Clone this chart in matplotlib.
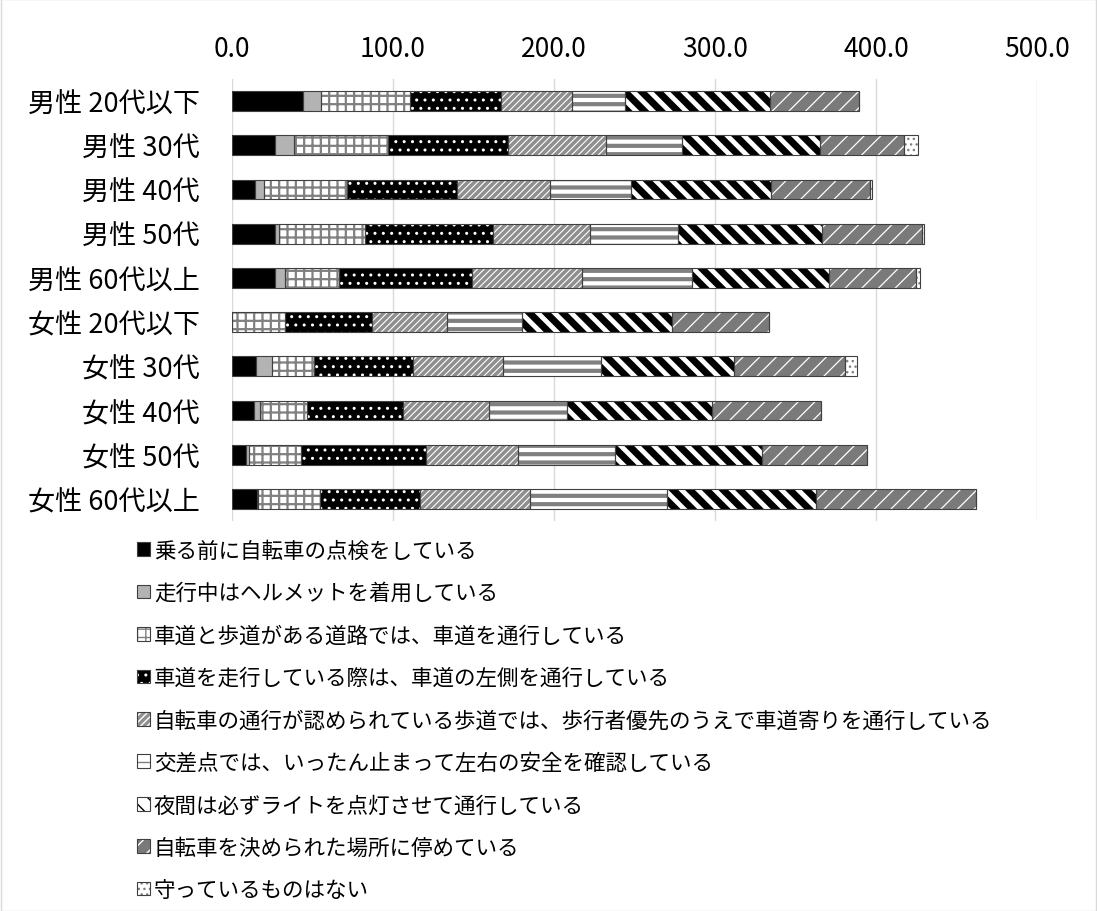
import matplotlib
matplotlib.use("Agg")
import matplotlib.pyplot as plt
from matplotlib.legend_handler import HandlerTuple
from matplotlib.patches import Rectangle
import numpy as np

plt.rcParams['font.family'] = ['Noto Sans CJK JP', 'DejaVu Sans']

categories = ["男性 20代以下", "男性 30代", "男性 40代", "男性 50代", "男性 60代以上",
              "女性 20代以下", "女性 30代", "女性 40代", "女性 50代", "女性 60代以上"]

series_names = [
    "乗る前に自転車の点検をしている",
    "走行中はヘルメットを着用している",
    "車道と歩道がある道路では、車道を通行している",
    "車道を走行している際は、車道の左側を通行している",
    "自転車の通行が認められている歩道では、歩行者優先のうえで車道寄りを通行している",
    "交差点では、いったん止まって左右の安全を確認している",
    "夜間は必ずライトを点灯させて通行している",
    "自転車を決められた場所に停めている",
    "守っているものはない",
]

s_inspect  = [44.4, 26.8, 14.5, 26.8, 26.8, 0.0, 14.8, 13.9, 8.6, 15.4]
s_helmet   = [10.9, 11.4, 5.2, 2.5, 6.2, 0.0, 9.9, 3.4, 2.2, 0.5]
s_roadway  = [55.5, 59.0, 51.8, 53.6, 33.4, 33.0, 26.5, 29.0, 31.8, 38.6]
s_left     = [56.2, 74.0, 68.4, 79.2, 82.9, 54.2, 61.5, 60.2, 78.1, 62.0]
s_sidewalk = [44.4, 61.3, 57.5, 60.4, 68.4, 46.4, 55.8, 53.4, 56.8, 68.6]
s_cross    = [33.0, 47.0, 50.2, 54.7, 68.3, 46.7, 60.8, 48.4, 60.2, 84.8]
s_light    = [89.5, 85.5, 86.9, 89.2, 84.7, 92.9, 82.7, 89.8, 91.3, 92.6]
s_parking  = [55.3, 52.7, 61.8, 62.1, 54.1, 60.4, 68.6, 67.9, 65.4, 99.7]
s_none     = [0.0, 8.5, 1.4, 1.1, 2.8, 0.0, 7.7, 0.0, 0.0, 0.0]

all_series = [s_inspect, s_helmet, s_roadway, s_left, s_sidewalk,
              s_cross, s_light, s_parking, s_none]

x_ticks = [0, 100, 200, 300, 400, 500]
x_tick_labels = ["0.0", "100.0", "200.0", "300.0", "400.0", "500.0"]

# (facecolor, hatch, hatchcolor, hatch linewidth)
styles = [
    ("#000000", None, "#000000", 1.0),
    ("#b3b3b3", None, "#b3b3b3", 1.0),
    ("#ffffff", "++", "#808080", 1.6),
    ("#000000", "..", "#ffffff", 1.0),
    ("#8f8f8f", "/////", "#ffffff", 0.8),
    ("#ffffff", "--", "#808080", 3.0),
    ("#ffffff", "\\\\", "#000000", 5.0),
    ("#7a7a7a", "//", "#ffffff", 0.9),
    ("#ffffff", "...", "#808080", 1.0),
]

fig = plt.figure(figsize=(10.97, 9.12), dpi=100)
ax = fig.add_axes([232 / 1097, 1 - 522 / 912, (1037 - 232) / 1097, (522 - 80) / 912])

y = np.arange(len(categories))
left = np.zeros(len(categories))
handles = []
for vals, (fc, hatch, hc, hlw) in zip(all_series, styles):
    vals = np.array(vals)
    with plt.rc_context({'hatch.linewidth': hlw, 'hatch.color': hc}):
        b1 = ax.barh(y, vals, left=left, height=0.45, color=fc, edgecolor=hc,
                     linewidth=0, hatch=hatch, zorder=2)
        for p in b1.patches:
            if hasattr(p, "set_hatch_linewidth"):
                p.set_hatch_linewidth(hlw)
    b2 = ax.barh(y, vals, left=left, height=0.45, fill=False,
                 edgecolor="#404040", linewidth=0.8, zorder=3)
    handles.append((b1, b2))
    left = left + vals

ax.set_xlim(0, 500)
ax.set_ylim(len(categories) - 0.5, -0.5)
ax.set_yticks(y)
ax.set_yticklabels(categories, fontsize=19.5)
ax.set_xticks(x_ticks)
ax.set_xticklabels(x_tick_labels, fontsize=19)
ax.xaxis.tick_top()
ax.tick_params(axis='x', length=0, pad=12)
ax.tick_params(axis='y', length=0, pad=23)
ax.grid(axis='x', color="#d9d9d9", linewidth=1.0, zorder=0)
ax.set_axisbelow(True)
for s in ax.spines.values():
    s.set_visible(False)

leg = fig.legend(handles, series_names, loc='upper left',
                 bbox_to_anchor=(128 / 1097, 1 - 532 / 912),
                 frameon=False, fontsize=15.5, ncol=1,
                 handler_map={tuple: HandlerTuple(ndivide=1, pad=0)},
                 handlelength=0.6, handleheight=0.6, handletextpad=0.2,
                 labelspacing=0.95, borderaxespad=0)

fig.patches.append(Rectangle((0.0005, 0.0005), 0.999, 0.999, transform=fig.transFigure,
                             fill=False, edgecolor="#d9d9d9", linewidth=1.0))

fig.savefig("out.png", dpi=100)
